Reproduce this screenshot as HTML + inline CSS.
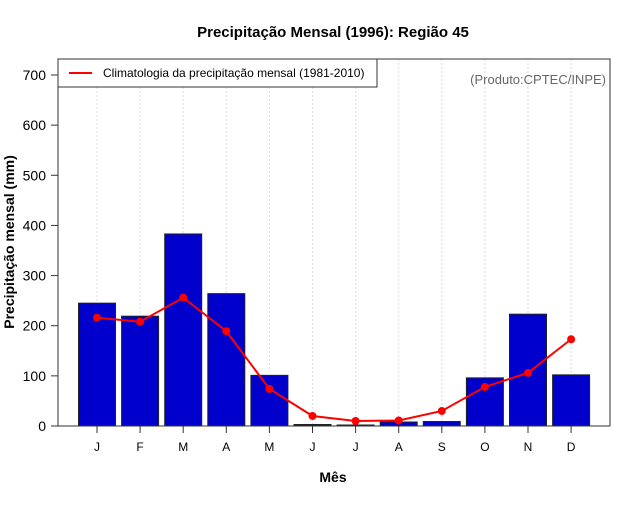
<!DOCTYPE html>
<html><head><meta charset="utf-8"><style>
body{margin:0;background:#fff;font-family:"Liberation Sans",sans-serif}
</style></head><body>
<svg width="640" height="500" xmlns="http://www.w3.org/2000/svg" font-family="Liberation Sans, sans-serif">
<rect width="640" height="500" fill="#fff"/>
<text x="333" y="37" text-anchor="middle" font-size="15" font-weight="bold">Precipitação Mensal (1996): Região 45</text>
<text x="333" y="482" text-anchor="middle" font-size="14" font-weight="bold">Mês</text>
<text transform="translate(14,242) rotate(-90)" text-anchor="middle" font-size="14" font-weight="bold">Precipitação mensal (mm)</text>
<g id="grid"></g><g id="bars"></g><g id="line"></g><g id="axes"></g>
<rect x="58" y="59" width="552" height="367" fill="none" stroke="#333" stroke-width="1"/>
<g>
<rect x="58" y="59" width="319" height="28" fill="#fff" stroke="#333"/>
<line x1="69" y1="73" x2="92" y2="73" stroke="red" stroke-width="2"/>
<text x="103" y="77" font-size="12">Climatologia da precipitação mensal (1981-2010)</text>
</g>
<text x="606" y="84" text-anchor="end" font-size="13" fill="#666">(Produto:CPTEC/INPE)</text>
</svg>
<script>
const months=["J","F","M","A","M","J","J","A","S","O","N","D"];
const observed=[245,219,383,264,101,3,2,8,9,96,223,102];
const climatology=[216,208,256,189,74,20,10,11,30,78,106,173];
const yTicks=[0,100,200,300,400,500,600,700];
const NS="http://www.w3.org/2000/svg";
const xs=i=>97+i*43.1;
const ys=v=>426-v*(351/700);
function mk(t,a,p){const e=document.createElementNS(NS,t);for(const k in a)e.setAttribute(k,a[k]);document.getElementById(p).appendChild(e);return e;}
months.forEach((m,i)=>{
const g=mk('line',{x1:xs(i),x2:xs(i),y1:59,y2:426,stroke:'#ddd','stroke-dasharray':'2,2'},'grid');


const b=mk('rect',{x:xs(i)-18.5,y:ys(observed[i]),width:37,height:426-ys(observed[i]),fill:'#0000cc',stroke:'#222','stroke-width':1},'bars');


const t=mk('line',{x1:xs(i),x2:xs(i),y1:426,y2:433,stroke:'#333'},'axes');


const l=mk('text',{x:xs(i),y:451,'text-anchor':'middle','font-size':12},'axes');l.textContent=m;


});
yTicks.forEach(v=>{
const t=mk('line',{x1:51,x2:58,y1:ys(v),y2:ys(v),stroke:'#333'},'axes');


const l=mk('text',{x:46,y:ys(v)+5,'text-anchor':'end','font-size':14},'axes');l.textContent=v;


});
const pl=mk('polyline',{points:climatology.map((v,i)=>xs(i)+','+ys(v)).join(' '),fill:'none',stroke:'red','stroke-width':2},'line');


climatology.forEach((v,i)=>{
const c=mk('circle',{cx:xs(i),cy:ys(v),r:4,fill:'red'},'line');


});
</script>
</body></html>
